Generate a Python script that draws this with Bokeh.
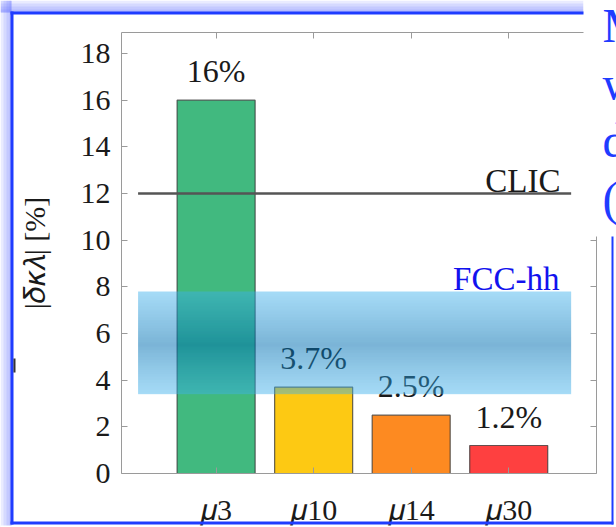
import numpy as np
from bokeh.plotting import figure
from bokeh.models import (Range1d, FixedTicker, LinearAxis, BoxAnnotation, Label,
                          ColumnDataSource)
from bokeh.core.properties import value
from bokeh.embed import file_html
from bokeh.resources import INLINE

# ---- data -------------------------------------------------------------
colliders = ["𝜇3", "𝜇10", "𝜇14", "𝜇30"]
precision = [16.0, 3.7, 2.5, 1.2]          # |δκ_λ| in %
precision_labels = ["16%", "3.7%", "2.5%", "1.2%"]
bar_colors = ["#41b97f", "#fdc913", "#fd8a21", "#fe4040"]
clic_value = 12.0
fcc_low, fcc_high = 3.4, 7.8
y_ticks = [0, 2, 4, 6, 8, 10, 12, 14, 16, 18]

# ---- layout / style ---------------------------------------------------
W, H = 616, 527
FRAME_L, FRAME_R, FRAME_T, FRAME_B = 121, 596, 32, 473   # chart box, px
x_lo, x_hi = 0.03, 4.9
y_lo, y_hi = 0.0, 18.9
ref_x0, ref_x1 = 0.2, 4.64     # horizontal extent of the CLIC line / FCC band

SERIF = "Liberation Serif"
AXIS_GREY = "#9a9a9a"
TEXT = "#1a1a1a"
SLIDE_BLUE = "#1f3cff"

# The plot frame fills the whole canvas; the chart box inside it is set by
# extending the data ranges, and the axes are pinned to the box edges.
ux = (x_hi - x_lo) / (FRAME_R - FRAME_L)
uy = (y_hi - y_lo) / (FRAME_B - FRAME_T)
x_range = Range1d(x_lo - FRAME_L * ux, x_hi + (W - FRAME_R) * ux)
y_range = Range1d(y_lo - (H - FRAME_B) * uy, y_hi + FRAME_T * uy)

xs = list(range(1, len(colliders) + 1))

p = figure(width=W, height=H, output_backend="svg", toolbar_location=None,
           x_range=x_range, y_range=y_range,
           x_axis_location=None, y_axis_location=None, min_border=0,
           background_fill_color="white", border_fill_color="white",
           outline_line_color=None)
p.grid.visible = False


def make_axis(ticks, location, bounds, show_labels):
    ax = LinearAxis(ticker=FixedTicker(ticks=ticks), fixed_location=location,
                    bounds=bounds)
    ax.axis_line_color = AXIS_GREY
    ax.axis_line_width = 1
    ax.major_tick_line_color = AXIS_GREY
    ax.major_tick_in = 6
    ax.major_tick_out = 0
    ax.minor_tick_line_color = None
    ax.major_label_text_font = SERIF
    ax.major_label_text_font_size = "30px"
    ax.major_label_text_color = TEXT if show_labels else None
    return ax


xaxis = make_axis(xs, y_lo, (x_lo, x_hi), True)
xaxis.major_label_overrides = {x: c for x, c in zip(xs, colliders)}
xaxis.major_label_standoff = 19
p.add_layout(xaxis, "below")

yaxis = make_axis(y_ticks, x_lo, (y_lo, y_hi), True)
yaxis.major_label_standoff = 11
yaxis.axis_label = "|𝛿𝜅𝜆| [%]"
yaxis.axis_label_text_font = SERIF
yaxis.axis_label_text_font_size = "30px"
yaxis.axis_label_text_font_style = "normal"
yaxis.axis_label_text_color = TEXT
yaxis.axis_label_standoff = 27
p.add_layout(yaxis, "left")

p.add_layout(make_axis(xs, y_hi, (x_lo, x_hi), False), "above")
p.add_layout(make_axis(y_ticks, x_hi, (y_lo, y_hi), False), "right")

# ---- bars -------------------------------------------------------------
src = ColumnDataSource(dict(x=xs, top=precision, color=bar_colors,
                            label=precision_labels))
p.vbar(x="x", top="top", bottom=0, width=0.8, source=src, fill_color="color",
       line_color="#333333", line_alpha=0.75, line_width=1.2)

# CLIC reference line
p.segment(x0=[ref_x0], x1=[ref_x1], y0=[clic_value], y1=[clic_value],
          line_color="#555555", line_width=2.5)
p.text(x=[4.53], y=[clic_value], text=["CLIC"], text_align="right",
       text_baseline="alphabetic", y_offset=-13, text_font=value(SERIF),
       text_font_size="33px", text_color=TEXT)

# value labels above the bars
p.text(x="x", y="top", text="label", source=src, text_align="center",
       text_baseline="alphabetic", y_offset=-29, text_font=value(SERIF),
       text_font_size="32px", text_color=TEXT)

# FCC-hh band: translucent blue, darkest a little below its middle
n_rows = 96
rows = np.linspace(fcc_low, fcc_high, n_rows)      # bottom -> top
core = 5.5
edge_rgb = np.array([61, 177, 237], dtype=float)
core_rgb = np.array([0, 111, 177], dtype=float)
band = np.empty((n_rows, 2), dtype=np.uint32)
band_px = band.view(dtype=np.uint8).reshape((n_rows, 2, 4))
for i, yv in enumerate(rows):
    if yv >= core:
        t = (yv - core) / (fcc_high - core)
    else:
        t = (core - yv) / (core - fcc_low)
    w = 1.0 - min(t, 1.0)
    rgb = edge_rgb + (core_rgb - edge_rgb) * w
    band_px[i, :, 0:3] = np.round(rgb).astype(np.uint8)
    band_px[i, :, 3] = int(round(255 * (0.46 + 0.06 * w)))
p.image_rgba(image=[band], x=ref_x0, y=fcc_low, dw=ref_x1 - ref_x0,
             dh=fcc_high - fcc_low)

p.text(x=[4.52], y=[fcc_high], text=["FCC-hh"], text_align="right",
       text_baseline="alphabetic", y_offset=-13, text_font=value(SERIF),
       text_font_size="33px", text_color="#1212ee")


# ---- slide frame around the chart (canvas pixels, y downwards) --------
def canvas_box(left, top, right, bottom, color, alpha=1.0):
    p.add_layout(BoxAnnotation(left=left, right=right, top=top, bottom=bottom,
                               left_units="canvas", right_units="canvas",
                               top_units="canvas", bottom_units="canvas",
                               fill_color=color, fill_alpha=alpha,
                               line_color=None, level="overlay"))


# soft glow outside the frame
for k in range(4):
    canvas_box(0, 3 * k, 583, 12, "#4a5cff", 0.12)
    canvas_box(3 * k, 0, 11, 527, "#4a5cff", 0.12)
# text box of the slide overlapping the top-right corner
canvas_box(583, 0, 616, 236, "white")
canvas_box(613, 236, 616, 527, "white")
canvas_box(0, 525, 616, 527, "white")
# frame lines
canvas_box(10, 11, 583, 14, SLIDE_BLUE)
canvas_box(10, 11, 13, 524, SLIDE_BLUE)
canvas_box(10, 521, 613, 524, SLIDE_BLUE)
canvas_box(611, 236, 613, 524, SLIDE_BLUE)
# edge of a bullet peeking out from behind the frame
canvas_box(13, 358, 15, 372, "#111111", 0.85)

for txt, base in zip(["M", "w", "d", "("], [25, 83, 140, 198]):
    p.add_layout(Label(x=602, y=base, x_units="canvas", y_units="canvas",
                       text=txt, text_font=SERIF, text_font_size="48px",
                       text_color=SLIDE_BLUE, text_baseline="alphabetic",
                       level="overlay"))

open("out.html", "w").write(file_html(p, INLINE))
